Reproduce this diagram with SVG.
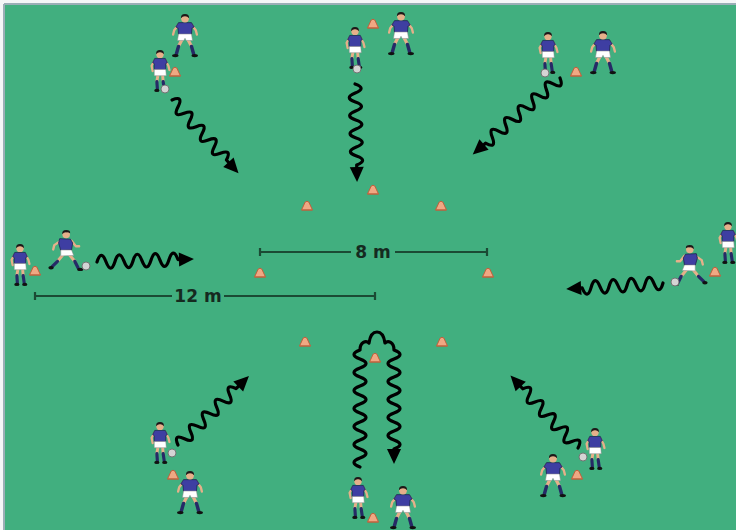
<svg xmlns="http://www.w3.org/2000/svg" width="736" height="530" viewBox="0 0 736 530">
<style>
.skin{fill:none;stroke:#e6b08a;stroke-linecap:round;stroke-linejoin:round}
.sock{fill:none;stroke:#262a66;stroke-linecap:round;stroke-linejoin:round}
.shirt{fill:#3e3ea2;stroke:#1c1c4a;stroke-width:0.7}
.shorts{fill:#ffffff;stroke:#8a8a8a;stroke-width:0.5}
.face{fill:#e6b08a}
.hair{fill:#1d1818}
.shoe{fill:#111}
.cone{fill:#f0a883;stroke:#c0603c;stroke-width:1;stroke-linejoin:round}
.ball{fill:#d4d4d4;stroke:#6c6c6c;stroke-width:0.9}
.wave{fill:none;stroke:#000;stroke-width:3.2;stroke-linecap:round;stroke-linejoin:round;marker-end:url(#ah)}
.dim{stroke:#1b4a34;stroke-width:2.2}
.lbl{font-family:"DejaVu Sans",sans-serif;font-weight:bold;font-size:17px;fill:#152a1f;text-anchor:middle}
</style>
<defs>
<marker id="ah" markerUnits="userSpaceOnUse" markerWidth="18" markerHeight="18" viewBox="0 -9 18 18" refX="1" refY="0" orient="auto" overflow="visible">
<path d="M0,-7 L15,0 L0,7 Z" fill="#000"/>
</marker>
<g id="cone">
<path class="cone" d="M-5.5,4 L-1.8,-4 Q0,-5.5 1.8,-4 L5.5,4 Z"/>
<path d="M-5.5,4 L5.5,4" stroke="#c0603c" stroke-width="1"/>
</g>
<circle id="ball" class="ball" r="4"/>
<g id="stand"><g transform="scale(1.08)">
<path class="skin" stroke-width="3" d="M-3,24 L-6,30 M3,24 L6,30"/>
<path class="sock" stroke-width="3.2" d="M-6,30 L-8,37 M6,30 L8,37"/>
<ellipse class="shoe" cx="-9" cy="38.5" rx="3" ry="1.5"/>
<ellipse class="shoe" cx="9" cy="38.5" rx="3" ry="1.5"/>
<path class="skin" stroke-width="2.2" d="M-6,10 L-10,15 L-11,19 M6,10 L10,15 L11,19"/>
<path class="shirt" d="M-6,8 L6,8 L8.5,12 L6.5,13 L6,19 L-6,19 L-6.5,13 L-8.5,12 Z"/>
<path class="shorts" d="M-6,18.5 L6,18.5 L7,24.5 L1,24.5 L0,22.5 L-1,24.5 L-7,24.5 Z"/>
<circle class="face" cx="0" cy="4.2" r="3.6"/>
<path class="hair" d="M-3.8,4 Q-4,0 0,0 Q4,0 3.8,4 Q2,2 0,2.2 Q-2,2 -3.8,4 Z"/>
</g></g>
<g id="drib"><g transform="scale(1.05)">
<path class="skin" stroke-width="2.8" d="M-2,24 L-3,30 M2.5,24 L3,30"/>
<path class="sock" stroke-width="3" d="M-3,30 L-2.5,37 M3,30 L4,37"/>
<ellipse class="shoe" cx="-3" cy="38.5" rx="2.5" ry="1.5"/>
<ellipse class="shoe" cx="4.5" cy="38.5" rx="2.5" ry="1.5"/>
<path class="skin" stroke-width="2.2" d="M-5,10 L-8,15 L-7,20 M5,10 L8,15 L9,19"/>
<path class="shirt" d="M-5,8 L5,8 L7,12 L5.5,13 L5.5,19 L-5.5,19 L-5.5,13 L-7,12 Z"/>
<path class="shorts" d="M-5.5,18.5 L5.5,18.5 L6,24.5 L-5.5,24.5 Z"/>
<circle class="face" cx="0" cy="4.2" r="3.5"/>
<path class="hair" d="M-3.7,4 Q-4,0 0,0 Q4,0 3.7,4 Q2,2 0,2.2 Q-2,2 -3.7,4 Z"/>
</g></g>
<g id="run"><g transform="scale(1.08)">
<path class="skin" stroke-width="2.8" d="M-1,23 L-6,29 M5,23 L10,29"/>
<path class="sock" stroke-width="3" d="M-6,29 L-11,34 M10,29 L13,35"/>
<ellipse class="shoe" cx="-12" cy="35" rx="2.5" ry="1.6"/>
<ellipse class="shoe" cx="15" cy="36.5" rx="2.8" ry="1.5"/>
<path class="skin" stroke-width="2.2" d="M-3,10 L-9,14 L-10,18 M7,10 L11,15 L14,15"/>
<path class="shirt" d="M-4,8 L6,8.5 L8,12 L7,18.5 L-3,19 L-5,12 Z"/>
<path class="shorts" d="M-3,18.5 L7,18.5 L9,23.5 L-3,24 Z"/>
<circle class="face" cx="2" cy="4.2" r="3.5"/>
<path class="hair" d="M-1.7,4 Q-2,0 2,0 Q6,0 5.7,3 Q4,2 2,2.2 Q0,2 -1.7,4 Z"/>
</g></g>
</defs>

<rect x="0" y="0" width="736" height="530" fill="#f4f6f7"/>
<rect x="5" y="5" width="731" height="525" fill="#41af7f"/>
<path d="M4,4 L736,4 M4,4 L4,530" stroke="#9aaeb6" stroke-width="2" fill="none"/>

<g id="cones">
<use href="#cone" x="373" y="190"/>
<use href="#cone" x="307" y="206"/>
<use href="#cone" x="441" y="206"/>
<use href="#cone" x="260" y="273"/>
<use href="#cone" x="488" y="273"/>
<use href="#cone" x="305" y="342"/>
<use href="#cone" x="442" y="342"/>
<use href="#cone" x="375" y="358"/>
</g>

<g id="measure-8m">
<path class="dim" d="M260,252 L351,252 M395,252 L487,252 M260,248 L260,256 M487,248 L487,256"/>
<text class="lbl" x="373" y="258">8 m</text>
</g>
<g id="measure-12m">
<path class="dim" d="M35,296 L172,296 M224,296 L375,296 M35,292 L35,300 M375,292 L375,300"/>
<text class="lbl" x="198" y="302">12 m</text>
</g>

<g id="group-top-left">
<use href="#stand" x="185" y="14"/>
<use href="#cone" x="175" y="72"/>
<use href="#drib" x="160" y="50"/>
<use href="#ball" x="165" y="89"/>
</g>
<g id="group-top-center">
<use href="#cone" x="373" y="24"/>
<use href="#stand" x="401" y="12"/>
<use href="#drib" x="355" y="27"/>
<use href="#ball" x="357" y="69"/>
</g>
<g id="group-top-right">
<use href="#cone" x="576" y="72"/>
<use href="#stand" x="603" y="31"/>
<use href="#drib" x="548" y="32"/>
<use href="#ball" x="545" y="73"/>
</g>
<g id="group-left">
<use href="#drib" x="20" y="244"/>
<use href="#cone" x="35" y="271"/>
<use href="#run" x="64" y="230"/>
<use href="#ball" x="86" y="266"/>
</g>
<g id="group-right">
<use href="#drib" x="728" y="222"/>
<use href="#cone" x="715" y="272"/>
<g transform="translate(692,245) scale(-1,1)"><use href="#run"/></g>
<use href="#ball" x="675" y="282"/>
</g>
<g id="group-bottom-left">
<use href="#drib" x="160" y="422"/>
<use href="#ball" x="172" y="453"/>
<use href="#cone" x="173" y="475"/>
<use href="#stand" x="190" y="471"/>
</g>
<g id="group-bottom-center">
<use href="#drib" x="358" y="477"/>
<use href="#cone" x="373" y="518"/>
<use href="#stand" x="403" y="486"/>
</g>
<g id="group-bottom-right">
<use href="#ball" x="583" y="457"/>
<use href="#drib" x="595" y="428"/>
<use href="#cone" x="577" y="475"/>
<use href="#stand" x="553" y="454"/>
</g>

<g id="connectors">
<path class="wave" transform="translate(172,100) rotate(47.8)" d="M0,0 q4.5,-12 9,0 t9,0 t9,0 t9,0 t9,0 t9,0 t9,0 t9,0 t9,0 l4,0"/>
<path class="wave" transform="translate(355,84) rotate(88.8)" d="M0,0 q4.5,-12 9,0 t9,0 t9,0 t9,0 t9,0 t9,0 t9,0 t9,0 t9,0 l3,0"/>
<path class="wave" transform="translate(560,78) rotate(138.8)" d="M0,0 q4.5,-12 9,0 t9,0 t9,0 t9,0 t9,0 t9,0 t9,0 t9,0 t9,0 t9,0 t9,0 l3,0"/>
<path class="wave" transform="translate(97,262) rotate(-1.75)" d="M0,0 q4.5,-13 9,0 t9,0 t9,0 t9,0 t9,0 t9,0 t9,0 t9,0 t9,0 l2,0"/>
<path class="wave" transform="translate(663,283) rotate(176.5)" d="M0,0 q4.5,-13 9,0 t9,0 t9,0 t9,0 t9,0 t9,0 t9,0 t9,0 t9,0 l2,0"/>
<path class="wave" transform="translate(178,445) rotate(-44.2)" d="M0,0 q4.5,-12 9,0 t9,0 t9,0 t9,0 t9,0 t9,0 t9,0 t9,0 t9,0 l4,0"/>
<path class="wave" transform="translate(578,448) rotate(-133)" d="M0,0 q4.5,12 9,0 t9,0 t9,0 t9,0 t9,0 t9,0 t9,0 t9,0 t9,0 l4,0"/>
<path class="wave" d="M360,467 q-12,-4.5 0,-9 t0,-9 t0,-9 t0,-9 t0,-9 t0,-9 t0,-9 t0,-9 t0,-9 t0,-9 t0,-9 t0,-9 t0,-9 C360,342 366,340 369,343 C370,336 372,332 377,332 C382,332 384,336 385,343 C388,340 394,342 394,350 q12,4.5 0,9 t0,9 t0,9 t0,9 t0,9 t0,9 t0,9 t0,9 t0,9 t0,9 t0,9 l0,1"/>
</g>
</svg>
